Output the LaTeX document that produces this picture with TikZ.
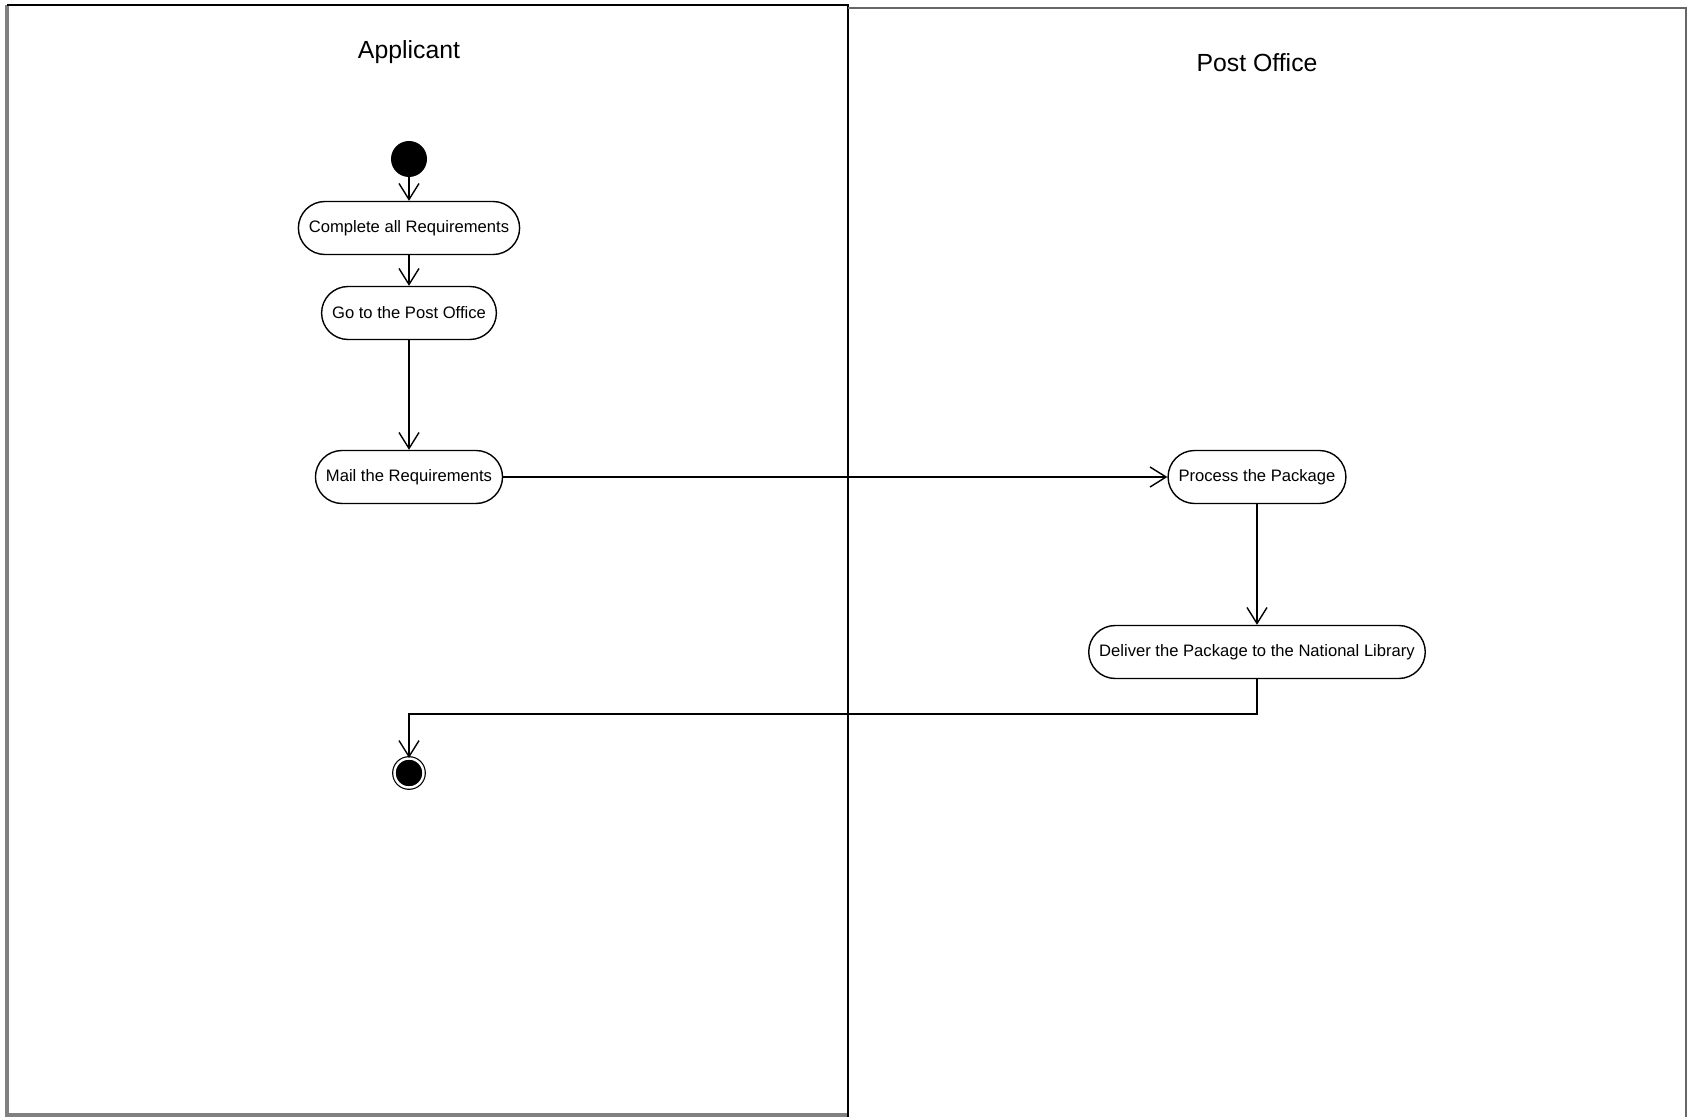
\documentclass[tikz,border=0pt]{standalone}
\usepackage{xcolor}
\usepackage{fontspec}
\setmainfont{Liberation Sans}
\usepackage{tikz}
\usetikzlibrary{arrows.meta}

\begin{document}
\begin{tikzpicture}[x=0.5pt, y=-0.5pt,
        action/.style={rectangle, draw, rounded corners=13.25pt, line width=0.7pt,
        minimum height=26.5pt, inner xsep=5.25pt, font=\fontsize{8.3}{10}\selectfont},
        lanename/.style={font=\fontsize{12.4}{15}\selectfont},
        startdot/.style={circle, fill, inner sep=0pt, minimum size=18pt},
        enddot/.style={circle, fill, draw, double=white, double distance=1.2pt,
        line width=0.6pt, inner sep=0pt, minimum size=14.5pt},
        >={Straight Barb[length=8pt, width=10pt]}]

        \useasboundingbox (0,0) rectangle (1688,1117);

        \draw[line width=2pt, gray] (7,5) -- (7,1115) -- (848,1115);
        \draw[line width=1.2pt] (848,1117) -- (848,5) -- (7,5);
        \draw[line width=0.9pt, gray!80!black] (848,8) -- (1686,8) -- (1686,1117);

        \node[lanename] (L1) at (409,52) {Applicant};
        \node[lanename] (L2) at (1257,63) {Post Office};

        \node[startdot] (S) at (409,159) {};
        \node[action] (A) at (409,228) {Complete all Requirements};
        \node[action] (B) at (409,313) {Go to the Post Office};
        \node[action] (C) at (409,477) {Mail the Requirements};
        \node[action] (D) at (1257,477) {Process the Package};
        \node[action] (E) at (1257,652) {Deliver the Package to the National Library};
        \node[enddot] (F) at (409,773) {};
        \coordinate (T) at (409,714);

        \draw[->, line width=0.7pt] (S) -- (A);
        \draw[->, line width=0.7pt] (A) -- (B);
        \draw[->, line width=0.7pt] (B) -- (C);
        \draw[->, line width=0.7pt] (C) -- (D);
        \draw[->, line width=0.7pt] (D) -- (E);
        \draw[->, line width=0.7pt] (E.south) |- (T) -- (F);
    \end{tikzpicture}
\end{document}
